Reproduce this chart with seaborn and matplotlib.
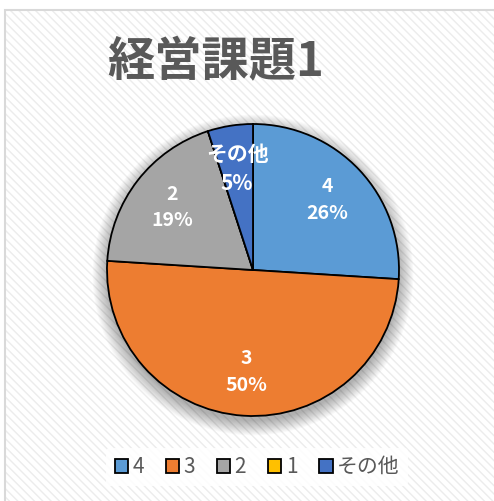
import numpy as np
import matplotlib.pyplot as plt
import seaborn as sns
from matplotlib.patches import Rectangle, Circle

# data
categories = ["4", "3", "2", "1", "その他"]
values = [26, 50, 19, 0, 5]
colors = ["#5B9BD5", "#ED7D31", "#A5A5A5", "#FFC000", "#4472C4"]
title = "経営課題1"

sns.set_theme(style="white")
plt.rcParams['font.family'] = ['Noto Sans CJK JP', 'DejaVu Sans']

W, H = 494, 501
fig = plt.figure(figsize=(W / 100, H / 100), dpi=100)
ax = fig.add_axes([0, 0, 1, 1])

# chart area: white with light diagonal stripes, thin gray border
bg = Rectangle((5, -5), W, H - 5, facecolor="white", edgecolor="#ECECEC",
               hatch="\\\\\\\\", linewidth=0, zorder=0)
ax.add_patch(bg)
ax.add_patch(Rectangle((5, -5), W, H - 5, fill=False, edgecolor="#D9D9D9",
                       linewidth=1.5, zorder=1))

cx, cy, r = 253, H - 270, 146

# soft shadow under the pie
for i in range(14):
    ax.add_patch(Circle((cx, cy - 5), r + i * 1.1, facecolor="black",
                        edgecolor="none", alpha=0.022, zorder=2))

labels_iter = iter(categories)


def fmt(pct):
    lab = next(labels_iter)
    if pct < 0.5:
        return ""
    return f"{lab}\n{pct:.0f}%"


wedges, texts = ax.pie(values, colors=colors, startangle=90, counterclock=False,
                       center=(cx, cy), radius=r, frame=True,
                       wedgeprops=dict(edgecolor="black", linewidth=1.3, zorder=3),
                       autopct=fmt, pctdistance=0.7,
                       textprops=dict(color="white", fontsize=14, fontweight="bold",
                                      linespacing=1.5))[:2]
for t in ax.texts:
    t.set_zorder(5)
    if t.get_text().startswith("その他"):
        t.set_fontsize(15)

ax.set_xlim(0, W)
ax.set_ylim(0, H)
ax.set_aspect("equal")
ax.axis("off")

ax.text(216, H - 62, title, ha="center", va="center", fontsize=34,
        fontweight="bold", color="#595959", zorder=5)

leg = ax.legend(wedges, categories, loc="center", bbox_to_anchor=(257 / W, 34 / H),
                ncol=5, frameon=True, fontsize=15, handlelength=0.65,
                handleheight=0.65, handletextpad=0.2, columnspacing=1.05,
                borderpad=0.4)
leg.get_frame().set_facecolor("white")
leg.get_frame().set_edgecolor("none")
leg.get_frame().set_alpha(0.85)
for t in leg.get_texts():
    t.set_color("#595959")

fig.savefig("out.png", dpi=100)
